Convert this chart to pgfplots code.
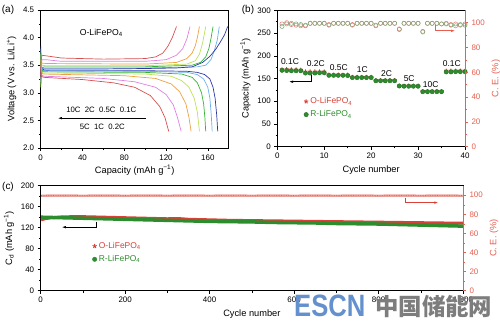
\documentclass[border=0pt]{standalone}
\usepackage{pgfplots}
\pgfplotsset{compat=1.18}
\usepackage{fontspec}
\setmainfont{Liberation Sans}
\newfontfamily\cjk{Noto Sans CJK SC}
\usetikzlibrary{arrows.meta}
\definecolor{c10}{RGB}{214,80,80}
\definecolor{c5}{RGB}{226,128,226}
\definecolor{c2}{RGB}{240,160,60}
\definecolor{c1}{RGB}{190,225,90}
\definecolor{c05}{RGB}{50,180,50}
\definecolor{c02}{RGB}{110,175,235}
\definecolor{c01}{RGB}{45,55,165}
\definecolor{cred}{RGB}{215,65,55}
\definecolor{cgreen}{RGB}{45,140,45}
\definecolor{ceax}{RGB}{230,95,80}
\definecolor{cered}{RGB}{228,120,110}
\definecolor{cegreen}{RGB}{120,170,120}
\definecolor{wmblue}{RGB}{100,145,205}
\definecolor{wmgray}{RGB}{125,125,125}
\pgfplotsset{
 every axis/.append style={
  scale only axis,
  tick align=outside,
  major tick length=3bp, minor tick length=1.8bp,
  tick label style={font=\fontsize{8}{9}\selectfont},
  label style={font=\fontsize{9.3}{10}\selectfont},
  /pgf/number format/assume math mode=true,
  axis line style={line width=0.5bp},
  every tick/.style={line width=0.5bp},
 }
}
\begin{document}
\begin{tikzpicture}
\useasboundingbox (0,0) rectangle (500bp,323bp);
\node[font=\fontsize{10}{11}\selectfont] at (8bp,313bp) {(a)};
\node[font=\fontsize{10}{11}\selectfont] at (248bp,313bp) {(b)};
\node[font=\fontsize{10}{11}\selectfont] at (8bp,136bp) {(c)};
% ---------------- panel a
\begin{axis}[at={(40.7bp,175bp)}, anchor=south west, width=188bp, height=138bp,
 xmin=0,xmax=180,ymin=2,ymax=4.5, xtick={0,40,...,160}, ytick={2,2.5,...,4.5},
 minor x tick num=1, minor y tick num=1, xtick pos=bottom, ytick pos=left,
 yticklabel style={/pgf/number format/.cd,fixed,fixed zerofill,precision=1},
 xlabel={Capacity (mAh g\textsuperscript{−1})}, ylabel={Voltage (V vs. Li/Li\textsuperscript{+})},
 xlabel style={yshift=1.5bp},
 every axis plot/.append style={line width=0.7bp, no marks},
]
% charge curves
\addplot[c10] coordinates {(0,3.3)(1,3.68)(5,3.67)(20,3.63)(60,3.61)(100,3.62)(110,3.65)(117,3.72)(122,3.85)(126,4.0)(130,4.2)};
\addplot[c5] coordinates {(0,3.2)(1,3.6)(5,3.6)(20,3.57)(100,3.57)(120,3.6)(130,3.68)(136,3.8)(140,3.98)(143,4.2)};
\addplot[c2] coordinates {(0,3.15)(1,3.54)(5,3.53)(100,3.52)(130,3.55)(140,3.62)(145,3.72)(148,3.85)(150,4.0)(152,4.2)};
\addplot[c1] coordinates {(0,3.1)(1,3.5)(5,3.49)(100,3.49)(140,3.52)(148,3.58)(152,3.7)(155,3.9)(158,4.2)};
\addplot[c05] coordinates {(0,3.1)(1,3.44)(3,3.47)(100,3.47)(145,3.5)(153,3.55)(158,3.65)(161,3.8)(163,3.98)(165,4.2)};
\addplot[c02] coordinates {(0,3.2)(1,3.42)(3,3.45)(100,3.45)(150,3.47)(158,3.5)(163,3.6)(166,3.75)(169,3.95)(171,4.2)};
\addplot[c01] coordinates {(0,3.3)(1,3.4)(3,3.43)(50,3.43)(100,3.44)(130,3.45)(145,3.47)(155,3.55)(162,3.66)(168,3.8)(172,3.92)(176,4.05)(179,4.2)};
% discharge curves
\addplot[c01] coordinates {(0,3.85)(0.5,3.5)(2,3.41)(10,3.4)(100,3.4)(140,3.39)(150,3.37)(157,3.33)(162,3.25)(165,3.1)(167,2.9)(168.5,2.6)(169.5,2.3)};
\addplot[c02] coordinates {(0,3.8)(0.5,3.5)(2,3.4)(100,3.39)(140,3.37)(150,3.33)(156,3.25)(160,3.1)(162,2.9)(163.3,2.6)(164.2,2.3)};
\addplot[c05] coordinates {(0,3.75)(0.5,3.45)(2,3.38)(100,3.37)(135,3.34)(145,3.28)(150,3.18)(154,3.0)(156,2.8)(157.2,2.55)(158,2.3)};
\addplot[c1] coordinates {(0,3.7)(0.5,3.4)(2,3.36)(100,3.34)(125,3.3)(135,3.22)(142,3.1)(147,2.9)(150,2.65)(152,2.3)};
\addplot[c2] coordinates {(0,3.6)(0.5,3.38)(2,3.34)(80,3.31)(110,3.26)(125,3.16)(133,3.02)(139,2.8)(142,2.55)(144,2.3)};
\addplot[c5] coordinates {(0,3.5)(0.5,3.33)(3,3.3)(60,3.26)(90,3.2)(110,3.1)(120,2.97)(127,2.78)(131,2.55)(134.5,2.3)};
\addplot[c10] coordinates {(0,3.4)(0.5,3.3)(3,3.28)(40,3.24)(70,3.18)(90,3.1)(105,2.95)(114,2.75)(119,2.55)(122.6,2.3)};
\node[font=\fontsize{8.7}{10}\selectfont] at (axis cs:58,4.08) {O-LiFePO\textsubscript{4}};
\draw[line width=0.6bp,-{Latex[length=4bp,width=2.5bp]}] (axis cs:100.4,2.54) -- (axis cs:16.5,2.54);
\node[font=\fontsize{7.8}{9}\selectfont] at (axis cs:58,2.69) {10C\ \ 2C\ \ 0.5C\ \ 0.1C};
\node[font=\fontsize{7.8}{9}\selectfont] at (axis cs:59,2.39) {5C\ \ 1C\ \ 0.2C};
\end{axis}
% ---------------- panel b (left)
\begin{axis}[at={(277.3bp,176.3bp)}, anchor=south west, width=187.7bp, height=136.4bp,
 xmin=0,xmax=40,ymin=0,ymax=300, xtick={0,10,...,40}, ytick={0,50,...,300},
 minor x tick num=1, minor y tick num=1, xtick pos=bottom, ytick pos=left,
 xlabel={Cycle number}, ylabel={Capacity (mAh g\textsuperscript{−1})},
 legend style={draw=none, fill=none, at={(0.125,0.39)}, anchor=north west, font=\fontsize{8.5}{9}\selectfont, row sep=1.5bp},
 legend cell align=left,
]
\addplot[only marks, mark=star, mark size=2.2bp, cred, mark options={line width=0.9bp}] coordinates {
(1,170)(2,170)(3,169.5)(4,169.5)(5,169)(6,165)(7,165)(8,165)(9,165)(10,165)
(11,158)(12,158)(13,158)(14,158)(15,158)(16,153)(17,153)(18,153)(19,153)(20,153)
(21,146)(22,146)(23,146)(24,146)(25,146)(26,134)(27,134)(28,134)(29,134)(30,134)
(31,122)(32,122)(33,122)(34,122)(35,122)(36,167)(37,167)(38,167)(39,167)(40,167)};
\addlegendentry{\textcolor{cred}{O-LiFePO\textsubscript{4}}}
\addplot[only marks, mark=*, mark size=2.2bp, cgreen, mark options={draw=cgreen!80!black}] coordinates {
(1,168)(2,167.5)(3,167)(4,167)(5,167)(6,162)(7,162)(8,162)(9,162.5)(10,162.5)
(11,157)(12,157)(13,157)(14,157)(15,156.5)(16,152)(17,152)(18,152)(19,152)(20,152)
(21,145)(22,145)(23,145)(24,145)(25,145)(26,133.5)(27,133)(28,133)(29,133)(30,133)
(31,121)(32,121)(33,121)(34,121)(35,121)(36,164.5)(37,164.5)(38,165)(39,165)(40,165)};
\addlegendentry{\textcolor{cgreen}{R-LiFePO\textsubscript{4}}}
\begin{scope}[font=\fontsize{8.5}{9}\selectfont]
\node at (axis cs:2.7,187.7) {0.1C};
\node at (axis cs:8.2,182) {0.2C};
\node at (axis cs:13.1,175) {0.5C};
\node at (axis cs:18.1,169.6) {1C};
\node at (axis cs:23.3,161.6) {2C};
\node at (axis cs:28.1,149) {5C};
\node at (axis cs:32.7,137) {10C};
\node at (axis cs:37.2,183) {0.1C};
\end{scope}
\draw[line width=0.6bp,-{Latex[length=4bp,width=2.5bp]}] (axis cs:7.3,157.7) -- (axis cs:7.3,143) -- (axis cs:2.5,143);
\end{axis}
% ---------------- panel b (right)
\begin{axis}[at={(277.3bp,176.3bp)}, anchor=south west, width=187.7bp, height=136.4bp,
 xmin=0,xmax=40,ymin=0,ymax=110, ytick={0,20,...,100}, minor y tick num=1,
 axis x line=none, axis y line*=right,
 y axis line style={draw=ceax},
 ytick style={draw=ceax}, yticklabel style={text=ceax},
 ylabel={C. E. (\%)}, ylabel style={text=ceax},
]
\addplot[only marks, mark=o, mark size=2.1bp, cered, mark options={line width=0.5bp}] coordinates {
(1,99)(2,100)(3,98.5)(4,98)(5,97.5)(6,98)(7,99.5)(8,99.5)(9,99.5)(10,99.5)
(11,98.5)(12,99.5)(13,99.5)(14,99.5)(15,99.5)(16,98.5)(17,99.5)(18,99.5)(19,99.5)(20,99.5)
(21,98)(22,99.5)(23,99.5)(24,99.5)(25,99.5)(26,95)(27,99.5)(28,99.5)(29,99.5)(30,99.5)
(31,93)(32,99.5)(33,99.5)(34,99.5)(35,99)(36,99.5)(37,98.5)(38,99)(39,98)(40,99)};
\addplot[only marks, mark=o, mark size=2.1bp, cegreen, mark options={line width=0.5bp}] coordinates {
(1,97)(2,99)(3,99.5)(4,99)(5,98.5)(6,97.5)(7,99.5)(8,99.5)(9,99.5)(10,99.5)
(11,98)(12,99.5)(13,99.5)(14,99.5)(15,99.5)(16,98)(17,99.5)(18,99.5)(19,99.5)(20,99.5)
(21,97.5)(22,99.5)(23,99.5)(24,99.5)(25,99.5)(26,94.5)(27,99.5)(28,99.5)(29,99.5)(30,99.5)
(31,92.5)(32,99.5)(33,99.5)(34,99.5)(35,99)(36,99)(37,98)(38,97.5)(39,98.5)(40,98)};
\draw[ceax,line width=0.6bp,-{Latex[length=4bp,width=2.5bp]}] (axis cs:33.6,98.1) -- (axis cs:33.6,93.5) -- (axis cs:37.9,93.5);
\end{axis}
% ---------------- panel c (left)
\begin{axis}[at={(40.7bp,32.3bp)}, anchor=south west, width=422.3bp, height=105bp,
 xmin=0,xmax=1000,ymin=0,ymax=200, xtick={0,200,...,1000}, ytick={0,40,...,200},
 minor x tick num=1, minor y tick num=1, xtick pos=bottom, ytick pos=left,
 xlabel={Cycle number}, ylabel={C\textsubscript{d} (mAh g\textsuperscript{−1})},
 xlabel style={yshift=1bp},
 legend style={draw=none, fill=none, at={(0.115,0.5)}, anchor=north west, font=\fontsize{8.5}{9}\selectfont, row sep=1.5bp},
 legend cell align=left,
]
\addplot[cred, line width=3bp, no marks, forget plot] coordinates {
(1,135)(10,137)(25,139)(50,140.5)(75,141)(100,141)(125,140.5)(150,140)(175,139.5)(200,139)
(250,138)(300,137)(325,137.5)(350,136)(400,135)(450,134)(500,133.5)(550,133)(600,132.5)
(650,132)(700,131.5)(750,131)(800,130.5)(850,130)(900,129.5)(950,129)(1000,128.5)};
\addplot[cgreen, line width=3.5bp, no marks, forget plot] coordinates {
(1,140)(25,139.5)(50,139)(100,138)(150,137)(200,136)(250,135)(300,134)(350,133)(400,132)
(450,131.5)(500,131)(550,130)(600,129.5)(650,129)(700,128)(750,127.5)(800,127)(850,126)
(900,125)(950,124)(1000,123)};
\addlegendimage{only marks, mark=star, mark size=2.2bp, cred, mark options={line width=0.9bp}}
\addlegendentry{\textcolor{cred}{O-LiFePO\textsubscript{4}}}
\addlegendimage{only marks, mark=*, mark size=2.2bp, cgreen}
\addlegendentry{\textcolor{cgreen}{R-LiFePO\textsubscript{4}}}
\draw[line width=0.6bp,-{Latex[length=4bp,width=2.5bp]}] (axis cs:131,131) -- (axis cs:131,121) -- (axis cs:50,121);
\end{axis}
% ---------------- panel c (right)
\begin{axis}[at={(40.7bp,32.3bp)}, anchor=south west, width=422.3bp, height=105bp,
 xmin=0,xmax=1000,ymin=0,ymax=110, ytick={0,20,...,100}, minor y tick num=1,
 axis x line=none, axis y line*=right,
 y axis line style={draw=ceax},
 ytick style={draw=ceax}, yticklabel style={text=ceax},
 ylabel={C. E. (\%)}, ylabel style={text=ceax},
]
\addplot[cered!70!white, line width=2.4bp, no marks] coordinates {
(1,99.5)(50,99.6)(100,99.5)(150,99.6)(200,99.5)(250,99.6)(300,99.5)(350,99.6)(400,99.5)
(450,99.6)(500,99.5)(550,99.6)(600,99.5)(650,99.6)(700,99.5)(750,99.6)(800,99.5)(850,99.6)(900,99.5)(950,99.6)(1000,99.5)};
\addplot[cred, line width=0.6bp, dash pattern=on 0.8bp off 1.6bp, no marks] coordinates {
(1,99.5)(50,99.6)(100,99.5)(150,99.6)(200,99.5)(250,99.6)(300,99.5)(350,99.6)(400,99.5)
(450,99.6)(500,99.5)(550,99.6)(600,99.5)(650,99.6)(700,99.5)(750,99.6)(800,99.5)(850,99.6)(900,99.5)(950,99.6)(1000,99.5)};
\draw[cred,line width=0.6bp,-{Latex[length=4bp,width=2.5bp]}] (axis cs:862.6,97.6) -- (axis cs:862.6,92.3) -- (axis cs:941.5,92.3);
\end{axis}
% watermark
\node[anchor=base west, font=\bfseries\fontsize{31}{31}\selectfont, text=wmblue, xscale=0.83, inner sep=0] at (294bp,6.5bp) {ESCN};
\node[anchor=base west, font=\cjk\bfseries\fontsize{23.5}{24}\selectfont, text=wmgray, inner sep=0] at (375bp,8bp) {中国储能网};
\end{tikzpicture}
\end{document}
